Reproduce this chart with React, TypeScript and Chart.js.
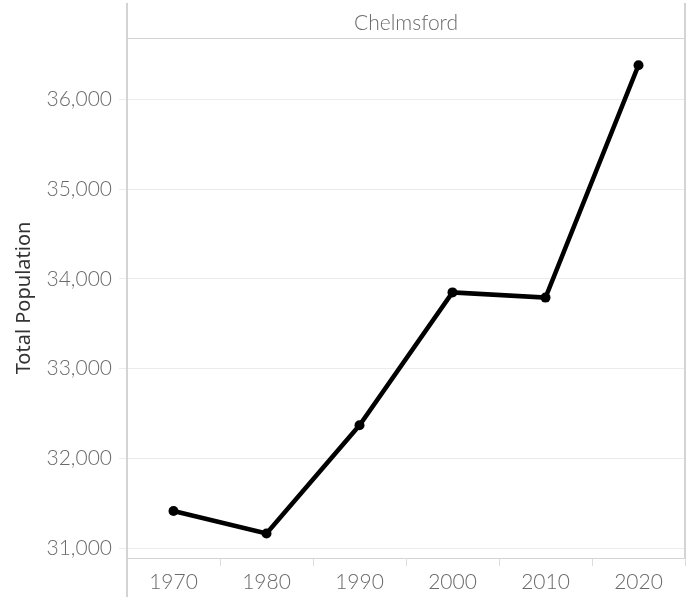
import React, { useEffect, useRef } from "react";
import { Chart, registerables } from "chart.js";

Chart.register(...registerables);

const years = ["1970", "1980", "1990", "2000", "2010", "2020"];
const population = [31415, 31165, 32370, 33850, 33792, 36380];
const yTicks = [31000, 32000, 33000, 34000, 35000, 36000];
const yMin = 30892;
const yMax = 36683;
const panelTitle = "Chelmsford";
const yTitle = "Total Population";

const FONT = "Lato, 'Noto Sans', sans-serif";
const TITLE_FONT = "'Noto Sans', sans-serif";
const LABEL_COLOR = "#6a6a6a";
const FRAME_COLOR = "#d4d4d4";

export default function App() {
  const ref = useRef<HTMLCanvasElement>(null);

  useEffect(() => {
    if (!ref.current) return;

    const framePlugin = {
      id: "frame",
      afterDraw(chart: any) {
        const ctx = chart.ctx;
        const a = chart.chartArea;
        ctx.save();
        ctx.strokeStyle = FRAME_COLOR;
        ctx.lineWidth = 2;
        ctx.beginPath();
        ctx.moveTo(a.left, 3);
        ctx.lineTo(a.left, chart.height);
        ctx.stroke();
        ctx.beginPath();
        ctx.moveTo(a.right, 3);
        ctx.lineTo(a.right, a.bottom);
        ctx.stroke();
        ctx.lineWidth = 1;
        ctx.beginPath();
        ctx.moveTo(a.left, a.top + 0.5);
        ctx.lineTo(a.right, a.top + 0.5);
        ctx.stroke();
        ctx.fillStyle = LABEL_COLOR;
        ctx.font = `300 21px ${FONT}`;
        ctx.textAlign = "center";
        ctx.textBaseline = "middle";
        ctx.fillText(panelTitle, (a.left + a.right) / 2, a.top / 2 + 4);
        ctx.restore();
      },
    };

    const chart = new Chart(ref.current, {
      type: "line",
      data: {
        labels: years,
        datasets: [
          {
            data: population,
            borderColor: "#000000",
            backgroundColor: "#000000",
            borderWidth: 4.5,
            pointRadius: 5,
            pointBorderWidth: 0,
            pointBackgroundColor: "#000000",
            tension: 0,
          },
        ],
      },
      options: {
        responsive: false,
        animation: false,
        layout: { padding: { top: 38, right: 5, left: 0, bottom: 0 } },
        plugins: {
          legend: { display: false },
          tooltip: { enabled: false },
        },
        scales: {
          x: {
            type: "category",
            offset: true,
            afterFit(scale: any) {
              scale.height = 39;
            },
            grid: {
              offset: true,
              drawOnChartArea: false,
              drawTicks: true,
              tickLength: 8,
              color: "#dcdcdc",
            },
            border: { display: true, color: FRAME_COLOR, width: 1 },
            ticks: {
              padding: 4,
              color: LABEL_COLOR,
              font: { family: FONT, size: 21, weight: "300" },
              maxRotation: 0,
            },
          },
          y: {
            type: "linear",
            min: yMin,
            max: yMax,
            afterFit(scale: any) {
              scale.width = 127;
            },
            afterBuildTicks(scale: any) {
              scale.ticks = yTicks.map((v) => ({ value: v }));
            },
            grid: {
              color: "#ececec",
              lineWidth: 1,
              drawTicks: true,
              tickLength: 8,
            },
            border: { display: false },
            ticks: {
              padding: 7,
              color: LABEL_COLOR,
              font: { family: FONT, size: 21, weight: "300" },
              callback: (v: any) => Number(v).toLocaleString("en-US"),
            },
            title: {
              display: true,
              text: yTitle,
              color: "#333333",
              font: { family: TITLE_FONT, size: 20 },
              padding: { top: 12, bottom: 0 },
            },
          },
        },
      },
      plugins: [framePlugin],
    });

    return () => chart.destroy();
  }, []);

  return (
    <div
      style={{
        position: "fixed",
        left: 0,
        top: 0,
        width: 690,
        height: 597,
        background: "#ffffff",
      }}
    >
      <canvas ref={ref} width={690} height={597} style={{ display: "block" }} />
    </div>
  );
}
